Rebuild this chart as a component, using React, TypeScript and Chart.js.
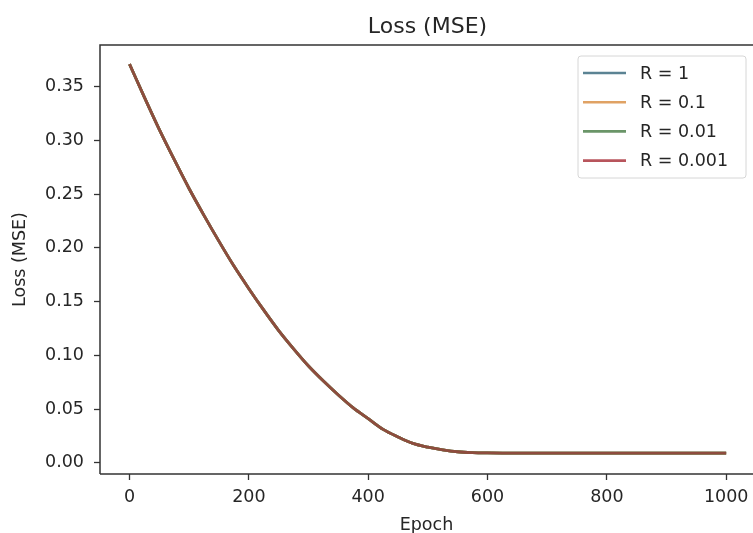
import React, { useEffect, useRef } from "react";
import { Chart, registerables } from "chart.js";

Chart.register(...registerables);

const epochs = [
  0, 25, 50, 75, 100, 125, 150, 175, 200, 225, 250, 275, 300, 325, 350, 375, 400,
  425, 450, 475, 500, 525, 550, 575, 600, 625, 650, 675, 700, 725, 750, 775, 800,
  825, 850, 875, 900, 925, 950, 975, 1000,
];

const lossR1 = [
  0.371, 0.34, 0.31, 0.282, 0.255, 0.23, 0.206, 0.183, 0.162, 0.142, 0.123, 0.106,
  0.09, 0.076, 0.063, 0.051, 0.041, 0.031, 0.024, 0.018, 0.0145, 0.012, 0.0102,
  0.0094, 0.0091, 0.009, 0.009, 0.009, 0.009, 0.009, 0.009, 0.009, 0.009, 0.009,
  0.009, 0.009, 0.009, 0.009, 0.009, 0.009, 0.009,
];
const lossR01 = [
  0.371, 0.34, 0.31, 0.282, 0.255, 0.23, 0.206, 0.183, 0.162, 0.142, 0.123, 0.106,
  0.09, 0.076, 0.063, 0.051, 0.041, 0.031, 0.024, 0.018, 0.0145, 0.012, 0.0102,
  0.0094, 0.0091, 0.009, 0.009, 0.009, 0.009, 0.009, 0.009, 0.009, 0.009, 0.009,
  0.009, 0.009, 0.009, 0.009, 0.009, 0.009, 0.009,
];
const lossR001 = [
  0.371, 0.34, 0.31, 0.282, 0.255, 0.23, 0.206, 0.183, 0.162, 0.142, 0.123, 0.106,
  0.09, 0.076, 0.063, 0.051, 0.041, 0.031, 0.024, 0.018, 0.0145, 0.012, 0.0102,
  0.0094, 0.0091, 0.009, 0.009, 0.009, 0.009, 0.009, 0.009, 0.009, 0.009, 0.009,
  0.009, 0.009, 0.009, 0.009, 0.009, 0.009, 0.009,
];
const lossR0001 = [
  0.371, 0.34, 0.31, 0.282, 0.255, 0.23, 0.206, 0.183, 0.162, 0.142, 0.123, 0.106,
  0.09, 0.076, 0.063, 0.051, 0.041, 0.031, 0.024, 0.018, 0.0145, 0.012, 0.0102,
  0.0094, 0.0091, 0.009, 0.009, 0.009, 0.009, 0.009, 0.009, 0.009, 0.009, 0.009,
  0.009, 0.009, 0.009, 0.009, 0.009, 0.009, 0.009,
];

const seriesLabels = ["R = 1", "R = 0.1", "R = 0.01", "R = 0.001"];
const seriesValues = [lossR1, lossR01, lossR001, lossR0001];
const lineColors = ["#4f7f98", "#d8904a", "#5a9357", "#8e4c3e"];
const legendColors = ["#5b8393", "#e0a264", "#6a9568", "#b8555c"];

const xTicks = [0, 200, 400, 600, 800, 1000];
const yTicks = [0, 0.05, 0.1, 0.15, 0.2, 0.25, 0.3, 0.35];

const chartTitle = "Loss (MSE)";
const xTitle = "Epoch";
const yTitle = "Loss (MSE)";

const FONT = "'DejaVu Sans', sans-serif";
const TEXT = "#262626";
const AXIS = "#333333";

const spinesAndLegend = {
  id: "spinesAndLegend",
  afterDraw(chart: any) {
    const { ctx, chartArea } = chart;
    const { left, top, right, bottom } = chartArea;
    ctx.save();
    // title centred over the plot area
    ctx.font = `22px ${FONT}`;
    ctx.fillStyle = TEXT;
    ctx.textAlign = "center";
    ctx.textBaseline = "alphabetic";
    ctx.fillText(chartTitle, (left + right) / 2 + 1, 33);

    // spines
    ctx.strokeStyle = AXIS;
    ctx.lineWidth = 1.5;
    ctx.beginPath();
    ctx.moveTo(left, bottom);
    ctx.lineTo(left, top);
    ctx.lineTo(right + 2, top);
    ctx.moveTo(left, bottom);
    ctx.lineTo(right + 2, bottom);
    ctx.stroke();

    // legend
    const bx = right - 175;
    const by = top + 11;
    const bw = 168;
    const bh = 122;
    const r = 3;
    ctx.beginPath();
    ctx.moveTo(bx + r, by);
    ctx.lineTo(bx + bw - r, by);
    ctx.quadraticCurveTo(bx + bw, by, bx + bw, by + r);
    ctx.lineTo(bx + bw, by + bh - r);
    ctx.quadraticCurveTo(bx + bw, by + bh, bx + bw - r, by + bh);
    ctx.lineTo(bx + r, by + bh);
    ctx.quadraticCurveTo(bx, by + bh, bx, by + bh - r);
    ctx.lineTo(bx, by + r);
    ctx.quadraticCurveTo(bx, by, bx + r, by);
    ctx.closePath();
    ctx.fillStyle = "rgba(255,255,255,0.85)";
    ctx.fill();
    ctx.strokeStyle = "#d6d6d6";
    ctx.lineWidth = 1;
    ctx.stroke();

    ctx.font = `17.5px ${FONT}`;
    ctx.textBaseline = "middle";
    ctx.textAlign = "left";
    seriesLabels.forEach((label, i) => {
      const y = by + 17 + i * 29.2;
      ctx.strokeStyle = legendColors[i];
      ctx.lineWidth = 2.6;
      ctx.beginPath();
      ctx.moveTo(bx + 5, y);
      ctx.lineTo(bx + 48, y);
      ctx.stroke();
      ctx.fillStyle = TEXT;
      ctx.fillText(label, bx + 62, y + 1);
    });
    ctx.restore();
  },
};

export default function App() {
  const canvasRef = useRef<HTMLCanvasElement | null>(null);

  useEffect(() => {
    const canvas = canvasRef.current;
    if (!canvas) return;
    const chart = new Chart(canvas, {
      type: "line",
      data: {
        datasets: seriesValues.map((vals, i) => ({
          label: seriesLabels[i],
          data: epochs.map((e, j) => ({ x: e, y: vals[j] })),
          borderColor: lineColors[i],
          backgroundColor: lineColors[i],
          borderWidth: 2.8,
          pointRadius: 0,
          order: seriesValues.length - 1 - i,
          cubicInterpolationMode: "monotone" as const,
          fill: false,
        })),
      },
      options: {
        animation: false,
        responsive: false,
        devicePixelRatio: 1,
        layout: { padding: { left: 0, right: 0, top: 45, bottom: 0 } },
        plugins: {
          legend: { display: false },
          tooltip: { enabled: false },
          title: { display: false },
        },
        scales: {
          x: {
            type: "linear",
            min: -49.5,
            max: 1045,
            afterBuildTicks: (scale: any) => {
              scale.ticks = xTicks.map((v) => ({ value: v }));
            },
            afterFit: (scale: any) => {
              scale.height = 59;
              scale.paddingLeft = 0;
              scale.paddingRight = 0;
            },
            ticks: {
              color: TEXT,
              font: { family: FONT, size: 17.5 },
              padding: 6.5,
              maxRotation: 0,
              autoSkip: false,
              callback: (v: any) => String(v),
            },
            grid: {
              display: true,
              drawOnChartArea: false,
              drawTicks: true,
              tickLength: 6,
              tickColor: AXIS,
              tickWidth: 1.3,
            },
            border: { display: false },
            title: {
              display: true,
              text: xTitle,
              color: TEXT,
              font: { family: FONT, size: 17.5, lineHeight: 0.9 },
              padding: { top: 0, bottom: 0 },
            },
          },
          y: {
            type: "linear",
            min: -0.0105,
            max: 0.3888,
            afterBuildTicks: (scale: any) => {
              scale.ticks = yTicks.map((v) => ({ value: v }));
            },
            afterFit: (scale: any) => {
              scale.width = 100;
              scale.paddingTop = 0;
              scale.paddingBottom = 0;
            },
            ticks: {
              color: TEXT,
              font: { family: FONT, size: 17.5 },
              padding: 10,
              autoSkip: false,
              callback: (v: any) => Number(v).toFixed(2),
            },
            grid: {
              display: true,
              drawOnChartArea: false,
              drawTicks: true,
              tickLength: 6,
              tickColor: AXIS,
              tickWidth: 1.3,
            },
            border: { display: false },
            title: {
              display: true,
              text: yTitle,
              color: TEXT,
              font: { family: FONT, size: 17.5, lineHeight: 1.2 },
              padding: { top: 9.5, bottom: 0 },
            },
          },
        },
      },
      plugins: [spinesAndLegend],
    });
    return () => chart.destroy();
  }, []);

  return (
    <div style={{ position: "absolute", left: 0, top: 0, width: 753, height: 533, background: "#fff" }}>
      <canvas ref={canvasRef} width={753} height={533} style={{ width: 753, height: 533, display: "block" }} />
    </div>
  );
}
